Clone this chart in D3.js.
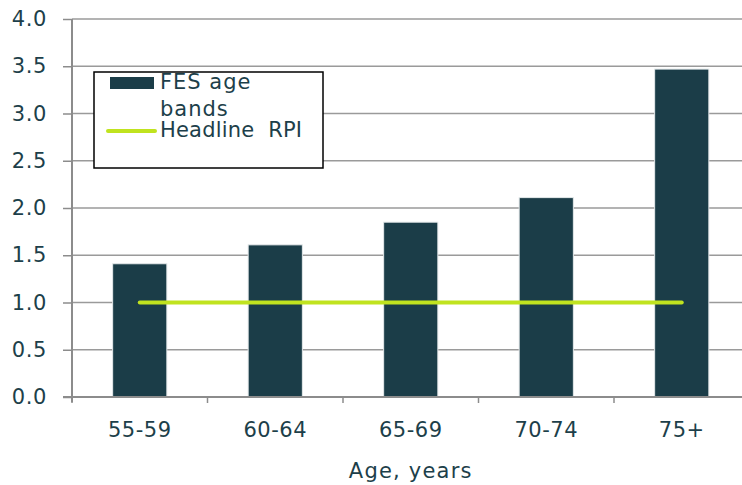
<!DOCTYPE html>
<html>
<head>
<meta charset="utf-8">
<script src="https://cdn.jsdelivr.net/npm/d3@7"></script>
<style>
  html, body { margin: 0; padding: 0; background: #fff; }
  svg { display: block; }
  text { font-family: "DejaVu Sans", Verdana, sans-serif; fill: #1d3f4a; }
</style>
</head>
<body>
<svg id="chart" width="742" height="485"></svg>
<script>
// Age bands and spending-index values
const categories = ["55-59", "60-64", "65-69", "70-74", "75+"];
const fesValues = [1.41, 1.61, 1.85, 2.11, 3.47];
const rpiValues = [1.0, 1.0, 1.0, 1.0, 1.0];
const yTicks = [0, 0.5, 1.0, 1.5, 2.0, 2.5, 3.0, 3.5, 4.0];
const seriesNames = ["FES age bands", "Headline  RPI"];
const xTitle = "Age, years";

const barColor = "#1b3d48";
const lineColor = "#c0e31f";
const gridColor = "#9a9a9a";
const axisColor = "#8c8c8c";

const svg = d3.select("#chart");
const plotLeft = 72, plotRight = 749.5, plotTop = 19, plotBottom = 397;

const x = d3.scaleBand()
  .domain(categories)
  .range([plotLeft, plotRight])
  .paddingInner(0.6)
  .paddingOuter(0.3);

const y = d3.scaleLinear().domain([0, 4]).range([plotBottom, plotTop]);

// Horizontal gridlines
svg.append("g")
  .selectAll("line")
  .data(yTicks.filter(d => d > 0))
  .join("line")
  .attr("x1", plotLeft).attr("x2", 742)
  .attr("y1", d => y(d)).attr("y2", d => y(d))
  .attr("stroke", gridColor)
  .attr("stroke-width", 1.5);

// Bars
svg.append("g")
  .selectAll("rect")
  .data(categories)
  .join("rect")
  .attr("x", d => x(d))
  .attr("width", x.bandwidth())
  .attr("y", (d, i) => y(fesValues[i]))
  .attr("height", (d, i) => y(0) - y(fesValues[i]))
  .attr("fill", barColor)
  .attr("stroke", "#e4e9ea")
  .attr("stroke-width", 1);

// Headline RPI line
const line = d3.line()
  .x((d, i) => x(categories[i]) + x.bandwidth() / 2)
  .y(d => y(d));

svg.append("path")
  .datum(rpiValues)
  .attr("d", line)
  .attr("fill", "none")
  .attr("stroke", lineColor)
  .attr("stroke-width", 4)
  .attr("stroke-linecap", "round");

// Y axis
const yAxis = d3.axisLeft(y)
  .tickValues(yTicks)
  .tickFormat(d3.format(".1f"))
  .tickSize(9)
  .tickPadding(16);

const gy = svg.append("g")
  .attr("transform", `translate(${plotLeft},0)`)
  .call(yAxis);
gy.select(".domain").remove();
gy.selectAll(".tick line").attr("stroke", axisColor).attr("stroke-width", 1.5);
gy.selectAll(".tick text")
  .style("font-size", "21px")
  .style("letter-spacing", "0.6px")
  .attr("fill", "#1d3f4a");

svg.append("line")
  .attr("x1", plotLeft).attr("x2", plotLeft)
  .attr("y1", plotTop).attr("y2", plotBottom + 5)
  .attr("stroke", axisColor).attr("stroke-width", 2);

// X axis baseline and category boundary ticks
svg.append("line")
  .attr("x1", plotLeft - 9).attr("x2", 742)
  .attr("y1", plotBottom).attr("y2", plotBottom)
  .attr("stroke", axisColor).attr("stroke-width", 2);

svg.append("g")
  .selectAll("line")
  .data(categories)
  .join("line")
  .attr("x1", d => x(d) + x.bandwidth() / 2 - x.step() / 2)
  .attr("x2", d => x(d) + x.bandwidth() / 2 - x.step() / 2)
  .attr("y1", plotBottom).attr("y2", plotBottom + 6)
  .attr("stroke", axisColor).attr("stroke-width", 1.5);

const xAxis = d3.axisBottom(x).tickSize(0).tickPadding(25);
const gx = svg.append("g")
  .attr("transform", `translate(0,${plotBottom})`)
  .call(xAxis);
gx.select(".domain").remove();
gx.selectAll(".tick text")
  .style("font-size", "21px")
  .style("letter-spacing", "0.5px")
  .attr("fill", "#1d3f4a");

// Axis title
svg.append("text")
  .attr("x", (plotLeft + plotRight) / 2)
  .attr("y", 478)
  .attr("text-anchor", "middle")
  .style("font-size", "21px")
  .style("letter-spacing", "1.2px")
  .text(xTitle);

// Legend
const legend = svg.append("g");
legend.append("rect")
  .attr("x", 94).attr("y", 72)
  .attr("width", 229).attr("height", 96)
  .attr("fill", "#fff")
  .attr("stroke", "#000")
  .attr("stroke-width", 1.5);

legend.append("rect")
  .attr("x", 110).attr("y", 77)
  .attr("width", 44).attr("height", 12)
  .attr("fill", barColor);

legend.append("line")
  .attr("x1", 108).attr("x2", 155)
  .attr("y1", 131).attr("y2", 131)
  .attr("stroke", lineColor)
  .attr("stroke-width", 4)
  .attr("stroke-linecap", "round");

const legendText = legend.append("text")
  .style("font-size", "21px")
  .style("letter-spacing", "1px")
  .style("white-space", "pre");
legendText.append("tspan").attr("x", 160).attr("y", 89).text("FES age");
legendText.append("tspan").attr("x", 160).attr("y", 116).text("bands");
legend.append("text")
  .attr("x", 160).attr("y", 137)
  .style("font-size", "21px")
  .style("letter-spacing", "0.2px")
  .style("white-space", "pre")
  .text(seriesNames[1]);
</script>
</body>
</html>
